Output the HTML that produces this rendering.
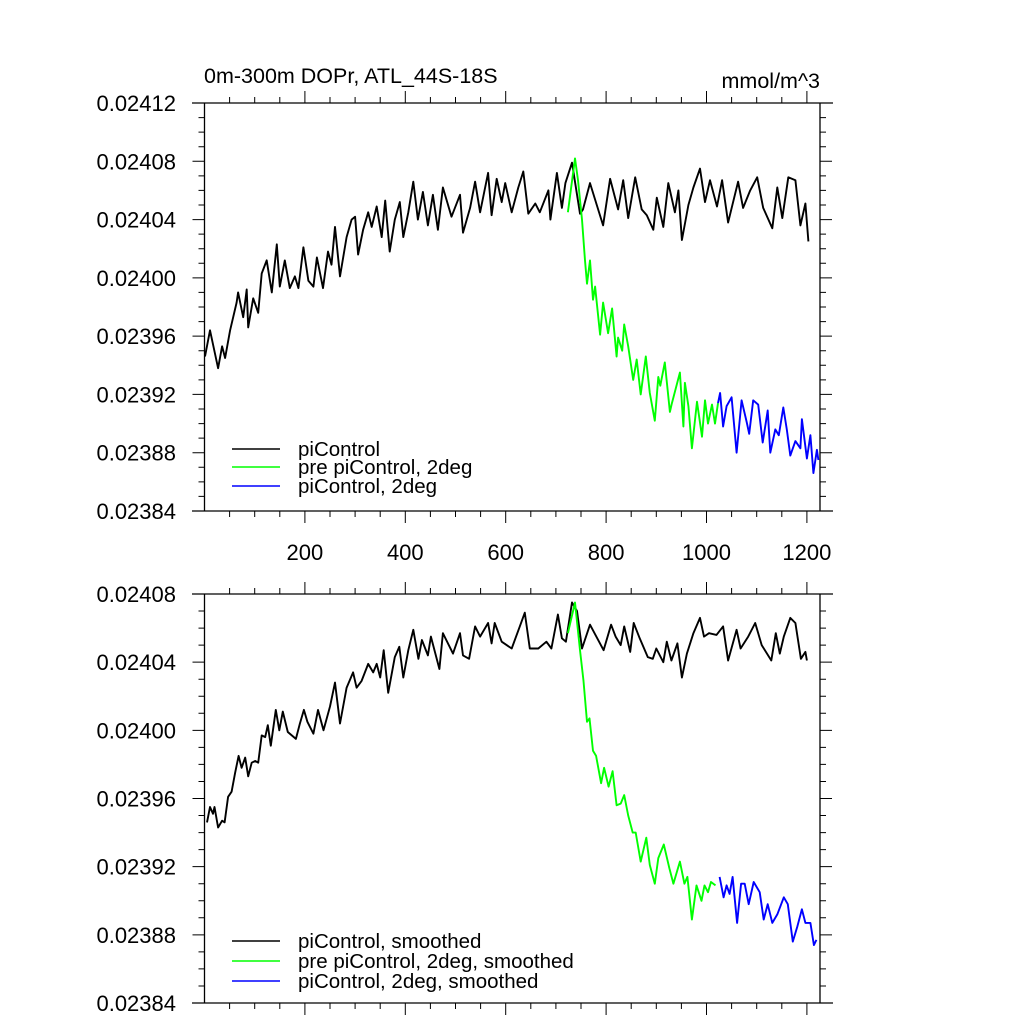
<!DOCTYPE html>
<html><head><meta charset="utf-8">
<style>
html,body{margin:0;padding:0;background:#fff;}
svg{display:block;font-family:"Liberation Sans",Arial,sans-serif;}
</style></head>
<body>
<svg id="chart" width="1024" height="1024" viewBox="0 0 1024 1024"></svg>
<script>
// Values: DOPr in units of 1e-5 mmol/m^3 above base 0.02384
const BASE = 0.02384;
const topBlackYears = [1,11,27,35,41,51,64,67,77,84,87,97,107,114,124,134,144,150,160,170,180,187,197,207,217,224,236,246,253,260,270,283,293,300,306,316,326,333,343,353,360,369,379,389,396,406,416,425,435,445,455,465,475,492,509,515,529,539,549,565,572,582,592,599,612,625,635,645,659,668,685,689,702,712,719,732,748,754,768,794,808,824,834,844,858,871,881,894,901,914,924,937,944,951,964,974,987,997,1007,1021,1031,1043,1063,1073,1087,1101,1113,1131,1141,1151,1163,1177,1187,1197,1203];
const topBlackVals = [10.6,12.4,9.8,11.3,10.5,12.4,14.3,15.0,13.3,15.2,12.6,14.6,13.6,16.3,17.2,15.0,18.3,15.4,17.2,15.3,16.1,15.3,18.1,15.8,15.4,17.4,15.3,17.8,16.9,19.5,16.1,18.8,20.0,20.2,17.6,19.3,20.5,19.5,20.9,18.8,21.3,17.8,20.0,21.2,18.8,20.5,22.6,20.0,21.9,19.6,21.7,19.3,22.2,20.2,21.7,19.1,20.8,22.6,20.5,23.2,20.3,22.8,21.2,22.5,20.5,22.2,23.3,20.4,21.1,20.5,22.0,20.0,23.2,20.8,22.5,23.9,20.4,20.7,22.5,19.6,22.8,20.7,22.7,20.1,22.9,20.7,20.3,19.3,21.5,19.5,22.5,20.5,22.0,18.6,21.0,22.2,23.5,21.2,22.7,20.9,22.7,19.8,22.6,20.8,22.0,22.9,20.8,19.4,22.2,20.1,22.9,22.7,19.6,21.1,18.5];
const topGreenYears = [724,738,744,752,758,762,768,774,778,788,794,804,812,821,824,832,836,844,854,861,869,879,887,897,904,908,917,927,931,947,954,957,964,971,981,991,997,1003,1011,1017,1023];
const topGreenVals = [20.5,24.2,22.7,20.0,17.2,15.6,17.2,14.5,15.4,12.1,14.3,12.2,13.9,10.6,11.9,11.0,12.8,11.3,9.0,10.4,8.0,10.6,8.1,6.2,9.2,8.6,10.2,6.8,7.4,9.5,5.8,8.8,7.2,4.3,7.5,5.1,7.6,6.0,7.3,6.0,7.4];
const topBlueYears = [1023,1027,1033,1040,1050,1060,1070,1080,1085,1093,1103,1112,1122,1127,1137,1144,1153,1160,1167,1177,1187,1190,1200,1207,1213,1220,1223];
const topBlueVals = [7.4,8.1,5.8,7.2,7.8,4.0,7.6,6.1,5.3,7.6,7.3,4.7,6.9,4.0,5.6,5.2,7.1,5.6,3.8,4.8,4.3,6.3,3.6,5.2,2.6,4.2,3.5];

const botBlackYears = [5,11,17,20,27,35,40,47,54,61,68,74,81,87,94,101,107,114,121,126,132,142,149,156,166,182,190,198,205,217,226,237,250,260,270,283,296,303,313,326,336,343,350,357,366,379,388,396,406,416,426,433,445,451,468,475,495,509,515,527,539,549,565,572,578,592,612,628,638,648,665,681,691,704,712,720,732,742,752,768,795,810,819,829,836,848,855,867,883,893,900,914,921,930,942,951,961,974,987,995,1005,1020,1033,1043,1060,1068,1083,1097,1110,1129,1138,1146,1154,1167,1177,1188,1197,1200];
const botBlackVals = [10.6,11.5,11.1,11.5,10.3,10.7,10.6,12.1,12.4,13.5,14.5,13.8,14.4,13.3,14.1,14.2,14.1,15.7,15.6,16.3,15.1,17.2,16.0,17.1,15.9,15.5,16.4,17.2,16.5,15.8,17.2,16.0,17.4,18.8,16.4,18.5,19.4,18.5,18.9,19.9,19.4,19.9,19.1,20.7,18.2,20.3,20.9,19.1,20.7,21.9,20.2,21.3,20.4,21.5,19.6,21.7,20.5,21.7,20.4,20.2,22.1,21.5,22.3,21.1,22.3,21.2,20.8,22.1,22.9,20.8,20.8,21.2,20.8,22.8,21.4,21.2,23.5,23.0,20.8,22.2,20.7,22.2,21.5,21.0,22.1,20.6,22.3,21.4,20.3,20.2,20.8,20.0,21.2,20.1,21.1,19.1,20.5,21.7,22.6,21.5,21.7,21.6,22.1,20.1,21.9,20.8,21.5,22.3,21.0,20.1,21.7,20.5,21.5,22.6,22.3,20.2,20.6,20.1];
const botGreenYears = [724,738,748,755,762,767,774,780,790,796,805,813,821,829,836,844,853,859,869,880,887,897,904,915,926,934,947,956,962,971,980,990,996,1003,1009,1018];
const botGreenVals = [21.7,23.5,20.7,18.9,16.5,16.7,14.8,14.5,12.9,13.8,12.7,13.6,11.6,11.7,12.2,11.0,10.0,10.0,8.3,9.7,8.1,7.0,8.5,9.3,7.9,7.0,8.3,7.0,7.4,4.9,6.9,6.0,6.9,6.5,7.1,6.9];
const botBlueYears = [1026,1034,1040,1046,1052,1061,1069,1076,1084,1094,1106,1114,1122,1131,1141,1154,1162,1172,1181,1190,1197,1207,1214,1219];
const botBlueVals = [7.4,6.2,6.9,6.4,7.4,4.7,7.0,7.0,5.8,7.1,6.5,4.9,5.8,4.7,5.2,6.2,5.8,3.6,4.5,5.5,4.7,4.7,3.4,3.7];

const yTickLabelsTop = ["0.02384","0.02388","0.02392","0.02396","0.02400","0.02404","0.02408","0.02412"];
const yTickLabelsBot = ["0.02384","0.02388","0.02392","0.02396","0.02400","0.02404","0.02408"];
const xTickLabels = ["200","400","600","800","1000","1200"];

const NS = "http://www.w3.org/2000/svg";
const svg = document.getElementById("chart");
function mk(tag, attrs, parent){ const e=document.createElementNS(NS,tag); for(const k in attrs) e.setAttribute(k,attrs[k]); (parent||svg).appendChild(e); return e; }

const XL=204.5, XR=820, XMAX=(820-204.5)/0.502;
function xs(v){ return XL + v*0.502; }

function panel(name, top, bottom, amax, labels, series, legend, showXLabels){
  const g = mk("g",{});
  
  
  const ys = a => bottom - a/amax*(bottom-top);
  const fr = mk("path",{d:`M${XL},${top}V${bottom}M${XR},${top}V${bottom}M192,${top}H833M192,${bottom}H833`,stroke:"#000","stroke-width":1.3,fill:"none"},g);
  
  
  for(let v=50; v<XMAX; v+=50){
    const x=xs(v), L=(v%200===0)?12:6;
    const t=mk("path",{d:`M${x},${top}V${top-L}M${x},${bottom}V${bottom+L}`,stroke:"#000","stroke-width":1},g);
    
    
  }
  if(showXLabels){
    xTickLabels.forEach(s=>{
      const t=mk("text",{x:xs(+s),y:bottom+49,"text-anchor":"middle","font-size":22},g);
      t.textContent=s;
      
      
    });
  }
  for(let a=0; a<=amax; a+=1){
    const y=ys(a), L=(a%4===0)?12:6;
    const t=mk("path",{d:`M${XL},${y}H${XL-L}M${XR},${y}H${XR+L}`,stroke:"#000","stroke-width":1},g);
    
    
  }
  labels.forEach((s,i)=>{
    const t=mk("text",{x:176,y:ys(i*4)+8,"text-anchor":"end","font-size":22},g);
    t.textContent=s;
    
    
  });
  series.forEach(s=>{
    const d=s.x.map((v,i)=>(i?"L":"M")+xs(v).toFixed(1)+","+ys(s.y[i]).toFixed(1)).join("");
    const p=mk("path",{d:d,stroke:s.c,"stroke-width":1.9,fill:"none","stroke-linejoin":"round"},g);
    
    
  });
  legend.forEach((L,i)=>{
    const lg=mk("g",{},g);
    
    
    mk("line",{x1:232,x2:280,y1:L.y,y2:L.y,stroke:L.c,"stroke-width":1.5},lg);
    const t=mk("text",{x:298,y:L.y+7,"font-size":20.5},lg);
    t.textContent=L.t;
  });
}

panel("top-panel",103,511,28,yTickLabelsTop,[
  {x:topBlackYears,y:topBlackVals,c:"#000",n:"picontrol-line"},
  {x:topGreenYears,y:topGreenVals,c:"#00ff00",n:"pre-picontrol-2deg-line"},
  {x:topBlueYears,y:topBlueVals,c:"#0000ff",n:"picontrol-2deg-line"}
],[{y:449,c:"#000",t:"piControl"},{y:467,c:"#00ff00",t:"pre piControl, 2deg"},{y:486,c:"#0000ff",t:"piControl, 2deg"}],true);

panel("bottom-panel",594,1003,24,yTickLabelsBot,[
  {x:botBlackYears,y:botBlackVals,c:"#000",n:"picontrol-smoothed-line"},
  {x:botGreenYears,y:botGreenVals,c:"#00ff00",n:"pre-picontrol-2deg-smoothed-line"},
  {x:botBlueYears,y:botBlueVals,c:"#0000ff",n:"picontrol-2deg-smoothed-line"}
],[{y:941,c:"#000",t:"piControl, smoothed"},{y:961,c:"#00ff00",t:"pre piControl, 2deg, smoothed"},{y:981,c:"#0000ff",t:"piControl, 2deg, smoothed"}],false);

const t1=mk("text",{x:204,y:83,"font-size":21.5});
t1.textContent="0m-300m DOPr, ATL_44S-18S";


const t2=mk("text",{x:820,y:88,"font-size":21.5,"text-anchor":"end"});
t2.textContent="mmol/m^3";


</script>
</body></html>
